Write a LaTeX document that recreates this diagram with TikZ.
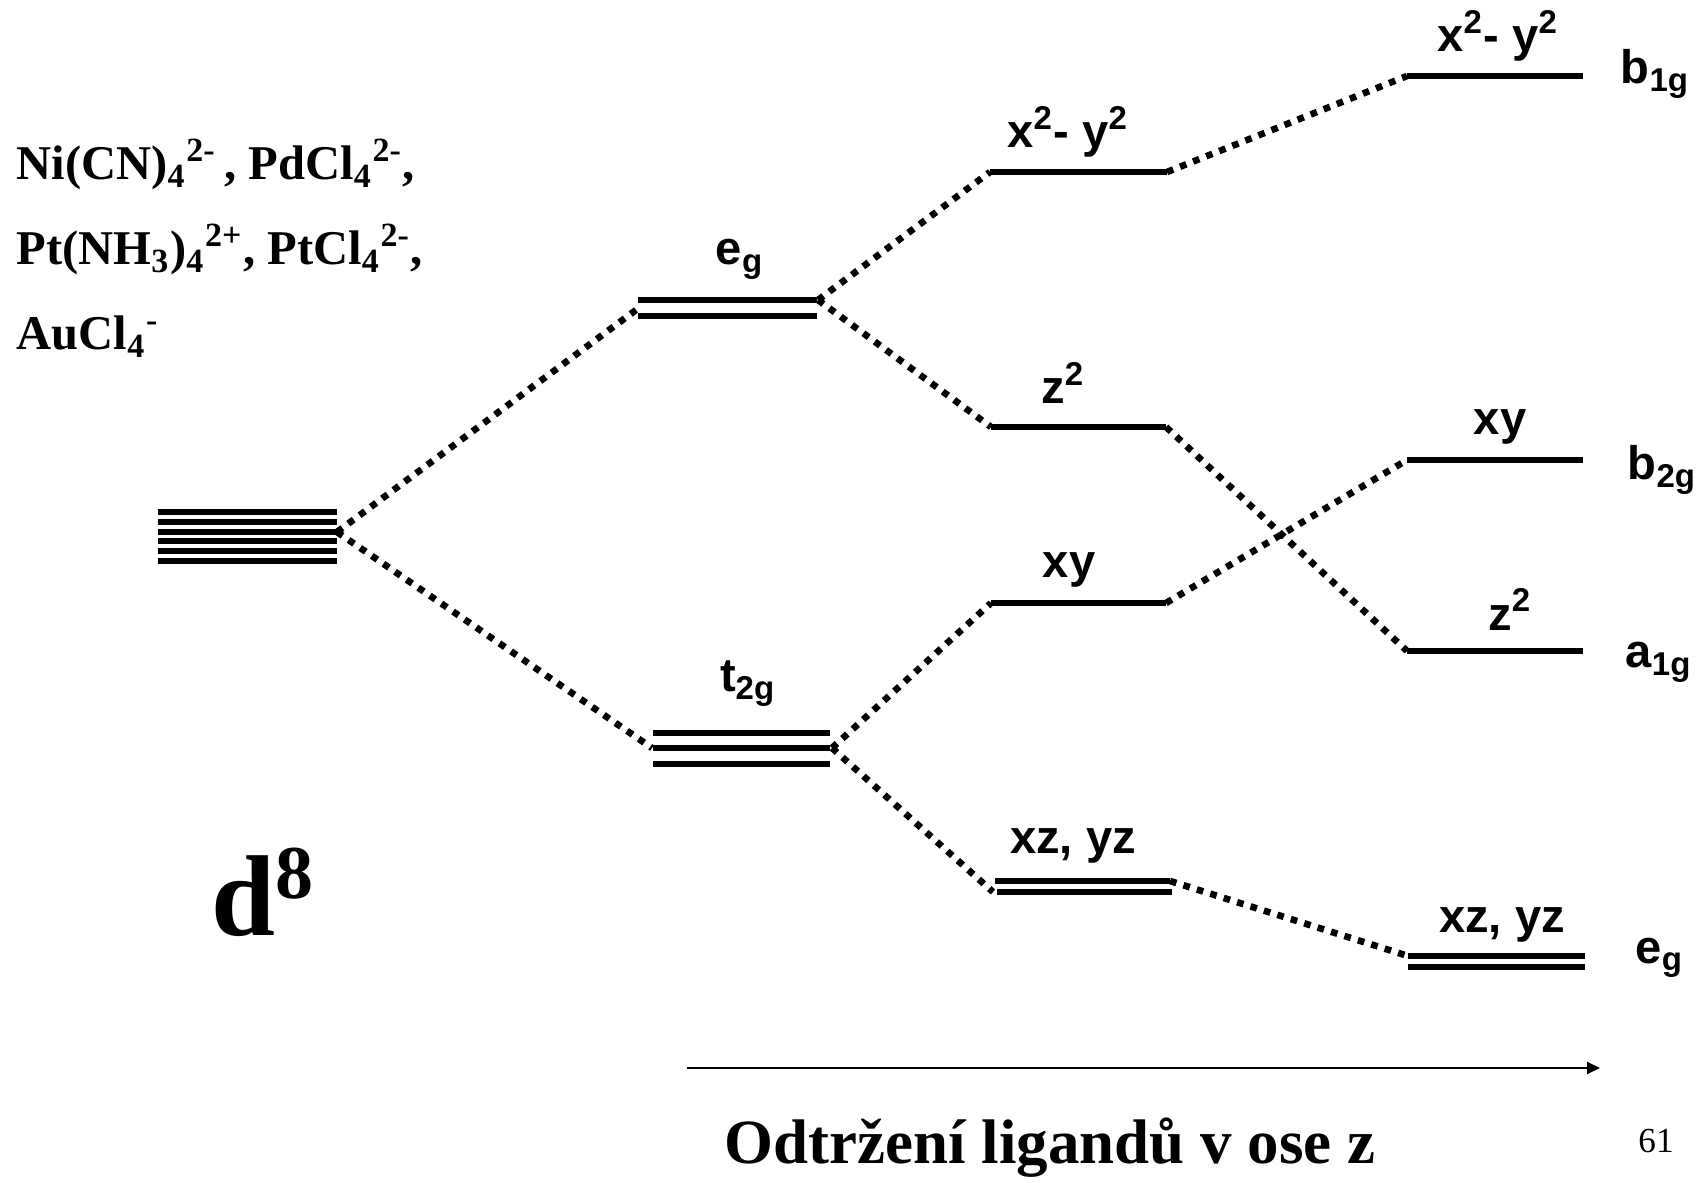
\documentclass[tikz,border=0pt]{standalone}
\usepackage{fontspec}
\setmainfont{Liberation Serif}
\setsansfont{Liberation Sans}
\usetikzlibrary{arrows.meta}

\begin{document}
\begin{tikzpicture}[x=0.01cm,y=-0.01cm,
  lvl/.style={line width=1.7pt},
  link/.style={line width=1.9pt,dash pattern=on 1.9pt off 2.1pt},
  orb/.style={font=\sffamily\bfseries\fontsize{13.4}{16}\selectfont,anchor=base,inner sep=0pt},
  sym/.style={orb,anchor=base west},
  chem/.style={font=\bfseries\fontsize{13.8}{17}\selectfont,anchor=base west,inner sep=0pt}]

  \useasboundingbox (0,0) rectangle (1704,1183);

  % free ion, five d orbitals
  \foreach \y in {512,522,532,541,551,561} \draw[lvl] (158,\y) -- (337,\y);
  \coordinate (free) at (337,532);

  % octahedral field
  \foreach \y in {300,316} \draw[lvl] (638,\y) -- (817,\y);
  \foreach \y in {733,748,764} \draw[lvl] (653,\y) -- (830,\y);
  \coordinate (eg-in)   at (636,310);
  \coordinate (eg-out)  at (818,300);
  \coordinate (t2g-in)  at (652,748);
  \coordinate (t2g-out) at (832,748);

  % tetragonal elongation
  \coordinate (mx2-l) at (990,172);  \coordinate (mx2-r) at (1167,172);
  \coordinate (mz2-l) at (991,427);  \coordinate (mz2-r) at (1166,427);
  \coordinate (mxy-l) at (991,603);  \coordinate (mxy-r) at (1166,603);
  \coordinate (mxz-l) at (995,881);  \coordinate (mxz-r) at (1170,881);
  \draw[lvl] (mx2-l) -- (mx2-r);
  \draw[lvl] (mz2-l) -- (mz2-r);
  \draw[lvl] (mxy-l) -- (mxy-r);
  \draw[lvl] (mxz-l) -- (mxz-r) ([shift={(2,11)}]mxz-l) -- ([shift={(2,11)}]mxz-r);

  % square planar
  \coordinate (rx2-l) at (1407,76);  \coordinate (rx2-r) at (1583,76);
  \coordinate (rxy-l) at (1407,460); \coordinate (rxy-r) at (1583,460);
  \coordinate (rz2-l) at (1407,651); \coordinate (rz2-r) at (1583,651);
  \coordinate (rxz-l) at (1408,956); \coordinate (rxz-r) at (1585,956);
  \draw[lvl] (rx2-l) -- (rx2-r);
  \draw[lvl] (rxy-l) -- (rxy-r);
  \draw[lvl] (rz2-l) -- (rz2-r);
  \draw[lvl] (rxz-l) -- (rxz-r) ([shift={(0,11)}]rxz-l) -- ([shift={(0,11)}]rxz-r);

  % correlation lines
  \draw[link] (free) -- (eg-in);
  \draw[link] (free) -- (t2g-in);
  \draw[link] (eg-out) -- (mx2-l);
  \draw[link] (eg-out) -- (mz2-l);
  \draw[link] (t2g-out) -- (mxy-l);
  \draw[link] (t2g-out) -- ([shift={(-2,11)}]mxz-l);
  \draw[link] (mx2-r) -- (rx2-l);
  \draw[link] (mz2-r) -- (rz2-l);
  \draw[link] (mxy-r) -- (rxy-l);
  \draw[link] (mxz-r) -- (rxz-l);

  % orbital labels
  \node[orb] (l-eg)   at (740,265)  {e\textsubscript{g}};
  \node[orb] (l-t2g)  at (748,692)  {t\textsubscript{2g}};
  \node[orb] (l-mx2)  at (1068,148) {x\textsuperscript{2}- y\textsuperscript{2}};
  \node[orb] (l-mz2)  at (1063,404) {z\textsuperscript{2}};
  \node[orb] (l-mxy)  at (1069,578) {xy};
  \node[orb] (l-mxz)  at (1073,853) {xz, yz};
  \node[orb] (l-rx2)  at (1498,52)  {x\textsuperscript{2}- y\textsuperscript{2}};
  \node[orb] (l-rxy)  at (1500,435) {xy};
  \node[orb] (l-rz2)  at (1510,630) {z\textsuperscript{2}};
  \node[orb] (l-rxz)  at (1502,932) {xz, yz};
  \node[sym] (s-b1g)  at (1620,84)  {b\textsubscript{1g}};
  \node[sym] (s-b2g)  at (1627,480) {b\textsubscript{2g}};
  \node[sym] (s-a1g)  at (1625,668) {a\textsubscript{1g}};
  \node[sym] (s-eg)   at (1635,963) {e\textsubscript{g}};

  % complexes
  \node[chem] (cx1) at (16,180) {Ni(CN)\textsubscript{4}\textsuperscript{2-}\,, PdCl\textsubscript{4}\textsuperscript{2-},};
  \node[chem] (cx2) at (16,265) {Pt(NH\textsubscript{3})\textsubscript{4}\textsuperscript{2+}, PtCl\textsubscript{4}\textsuperscript{2-},};
  \node[chem] (cx3) at (16,350) {AuCl\textsubscript{4}\textsuperscript{-}};
  \node[chem,font=\bfseries\fontsize{32.7}{36}\selectfont] (d8) at (211,935)
    {d\raisebox{10.5pt}{\fontsize{21.6}{24}\selectfont 8}};

  % axis
  \coordinate (ax0) at (687,1068);
  \coordinate (ax1) at (1600,1068);
  \draw[line width=0.6pt,-{Triangle[length=3.7pt,width=3.4pt]}] (ax0) -- (ax1);
  \node[anchor=base,inner sep=0pt,font=\bfseries\fontsize{17.9}{20}\selectfont] (axis)
    at (1050,1163) {Odtržení ligandů v ose z};
  \node[anchor=base,inner sep=0pt,font=\fontsize{10}{12}\selectfont] (page) at (1656,1152) {61};

\end{tikzpicture}
\end{document}
